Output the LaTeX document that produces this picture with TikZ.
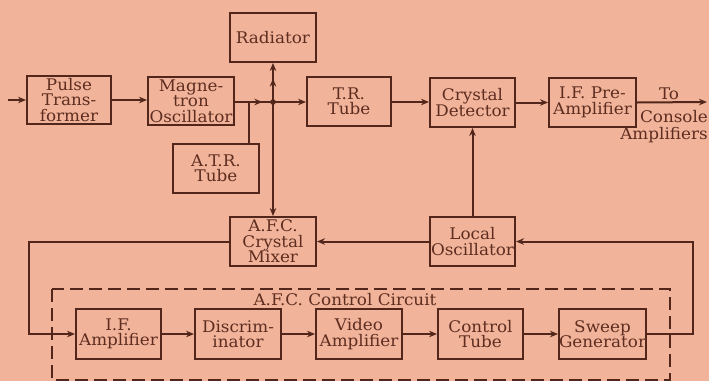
\documentclass[tikz,border=0pt]{standalone}
\usepackage{fontspec}
\setmainfont{DejaVu Serif}[FakeStretch=1.05]
\usetikzlibrary{arrows.meta,decorations.markings}
\definecolor{bg}{HTML}{F1B49A}
\definecolor{ink}{HTML}{52261A}
\definecolor{txt}{HTML}{5E2D20}
\tikzset{
  blk/.style={draw=ink,line width=2pt,minimum width=#1,text width=#1,minimum height=49pt,inner sep=0pt,align=center,text=txt,font=\fontsize{16}{15.5}\selectfont},
  blk/.default=85pt,
  wire/.style={draw=ink,line width=2pt},
  arr/.style={wire,-{Stealth[length=8pt,width=6.5pt]}},
  midarr/.style={wire,postaction={decorate},decoration={markings,mark=at position #1 with {\arrow[ink,line width=1.8pt]{Stealth[length=8pt,width=6.5pt]}}}},
  lbl/.style={text=txt,font=\fontsize{16}{15.5}\selectfont,inner sep=0pt}
}
\begin{document}
\begin{tikzpicture}[x=1pt,y=-1pt]
\fill[bg] (0,0) rectangle (709,381);
\useasboundingbox (0,0) rectangle (709,381);
% top row
\node[blk=84pt,minimum height=48pt] (pulse) at (69,100) {Pulse\\Trans-\\former};
\node[blk=86pt,minimum height=48pt] (mag) at (191,101) {Magne-\\tron\\Oscillator};
\node[blk=86pt] (rad) at (273,37.5) {Radiator};
\node[blk=86pt] (atr) at (216,168.5) {A.T.R.\\Tube};
\node[blk=84pt] (tr) at (349,101.5) {T.R.\\Tube};
\node[blk] (cd) at (472.5,102.5) {Crystal\\Detector};
\node[blk=87pt] (ifp) at (592.5,102.5) {I.F. Pre-\\Amplifier};
% middle row
\node[blk=86pt] (mix) at (273,241.5) {A.F.C.\\Crystal\\Mixer};
\node[blk] (lo) at (472.5,241.5) {Local\\Oscillator};
% bottom row
\node[blk,minimum height=50pt] (ifa) at (118.5,334) {I.F.\\Amplifier};
\node[blk=86pt,minimum height=50pt] (disc) at (238,334) {Discrim-\\inator};
\node[blk=86pt,minimum height=50pt] (vid) at (359,334) {Video\\Amplifier};
\node[blk,minimum height=50pt] (ct) at (480.5,334) {Control\\Tube};
\node[blk=87pt,minimum height=50pt] (sw) at (602.5,334) {Sweep\\Generator};
% dashed frame
\draw[draw=ink,line width=2pt,dash pattern=on 13pt off 6pt] (52,289) rectangle (670,380);
\node[lbl] (afc) at (345,300) {A.F.C. Control Circuit};
% coordinates
\coordinate (in) at (8,100);
\coordinate (j) at (273,102);
\coordinate (aj) at (249,102);
\coordinate (out) at (707,102);
\coordinate (lc) at (29,241.5);
\coordinate (rc) at (693,241.5);
% connectors
\draw[arr] (in) -- (pulse.west);
\draw[arr] (pulse.east) -- (mag.west |- pulse.east);
\draw[midarr=0.72] (mag.east |- j) -- (j);
\draw[wire] (aj) -- (aj |- atr.north);
\draw[midarr=0.6,-{Stealth[length=8pt,width=6.5pt]}] (j) -- (rad.south);
\draw[arr] (j) -- (tr.west |- j);
\draw[arr] (j) -- (mix.north);
\fill[ink] (j) circle (2.8pt);
\draw[arr] (tr.east |- j) -- (cd.west |- j);
\draw[arr] (cd.east) -- (ifp.west);
\draw[arr] (ifp.east) -- (out);
\node[lbl] (to) at (669,94) {To};
\node[lbl] (cons) at (674,117) {Console};
\node[lbl] (ampl) at (664,135) {Amplifiers};
\draw[arr] (lo.north) -- (cd.south);
\draw[arr] (lo.west) -- (mix.east);
\draw[arr] (mix.west) -- (lc) |- (ifa.west);
\draw[arr] (ifa.east) -- (disc.west);
\draw[arr] (disc.east) -- (vid.west);
\draw[arr] (vid.east) -- (ct.west);
\draw[arr] (ct.east) -- (sw.west);
\draw[arr] (sw.east) -- (rc |- sw.east) -- (rc) -- (lo.east);
\end{tikzpicture}
\end{document}
